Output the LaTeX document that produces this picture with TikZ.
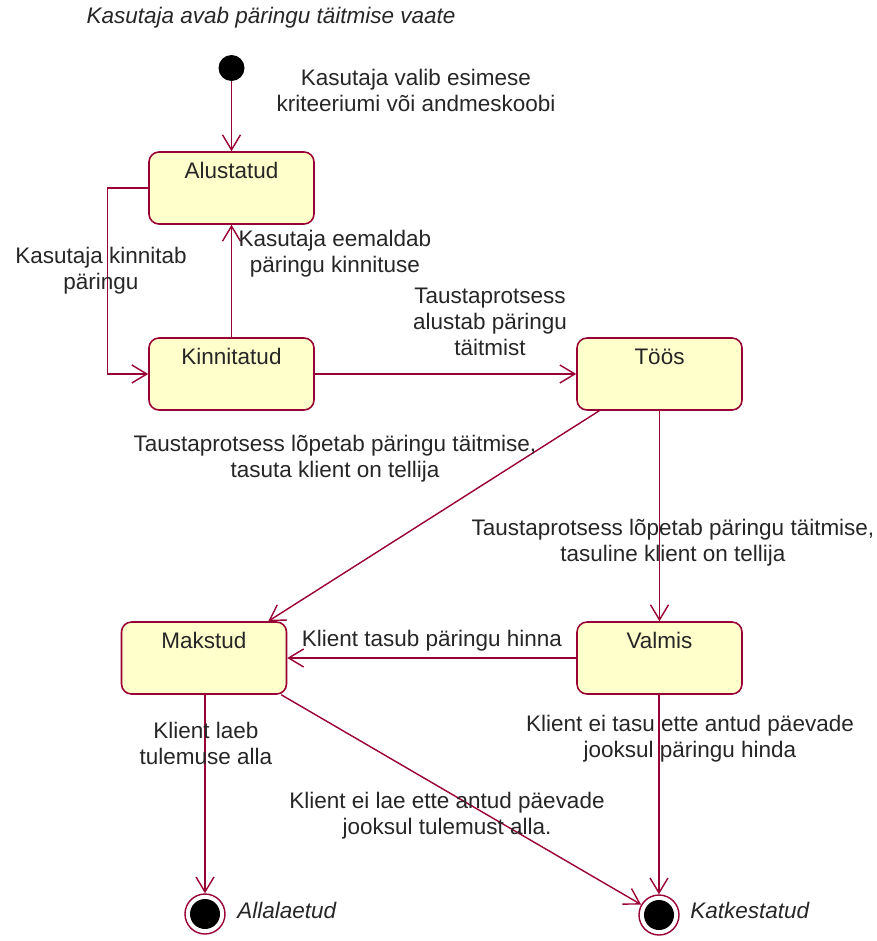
\documentclass[tikz,border=0pt]{standalone}
\usepackage{fontspec}
\setmainfont{Liberation Sans}
\usetikzlibrary{arrows.meta}
\definecolor{umlred}{RGB}{153,0,51}
\definecolor{umlfill}{RGB}{255,255,204}
\begin{document}
\begin{tikzpicture}[
  every node/.style={font=\fontsize{12.8}{14.8}\selectfont,text=black!85},
  statebox/.style={draw=umlred,fill=umlfill,line width=0.9pt,rounded corners=0.2cm,
    minimum width=3.3cm,text height=0.42cm,text depth=0.82cm,inner sep=0.1cm},
  initstate/.style={circle,fill=black,minimum size=0.52cm,inner sep=0pt},
  finalstate/.style={circle,draw=umlred,line width=0.8pt,minimum size=0.8cm,inner sep=0pt,
    path picture={\fill[black] (path picture bounding box.center) circle (0.3cm);}},
  trans/.style={draw=umlred,line width=0.8pt,-{Straight Barb[length=3mm,width=3.6mm]}},
  lbl/.style={align=center,inner sep=0pt}
]
\useasboundingbox (0,0) rectangle (17.52,-18.82);
% states
\node[initstate] (start) at (4.63,-1.36) {};
\node[statebox] (alustatud) at (4.63,-3.76) {Alustatud};
\node[statebox] (kinnitatud) at (4.63,-7.48) {Kinnitatud};
\node[statebox] (toos) at (13.19,-7.48) {Töös};
\node[statebox] (makstud) at (4.08,-13.16) {Makstud};
\node[statebox] (valmis) at (13.19,-13.16) {Valmis};
\node[finalstate] (allalaetud) at (4.10,-18.28) {};
\node[finalstate] (katkestatud) at (13.18,-18.30) {};
% transitions
\draw[trans] (start) -- (alustatud.north);
\draw[trans] (alustatud.west) -- ++(-0.82,0) |- (kinnitatud.west);
\draw[trans] (kinnitatud.north) -- (alustatud.south);
\draw[trans] (kinnitatud.east) -- (toos.west);
\draw[trans] ([xshift=0.46cm]toos.south west) -- ([xshift=-0.38cm]makstud.north east);
\draw[trans] (toos.south) -- (valmis.north);
\draw[trans] (valmis.west) -- (makstud.east);
\draw[trans] (makstud.south -| allalaetud) -- (allalaetud);
\draw[trans] ([xshift=-0.12cm]makstud.south east) -- (katkestatud);
\draw[trans] (valmis.south -| katkestatud) -- (katkestatud);
% labels
\node[lbl,font=\fontsize{12.8}{14.8}\selectfont\itshape] (tvaade) at (5.42,-0.36) {Kasutaja avab päringu täitmise vaate};
\node[lbl] (tvalib) at (8.32,-1.80) {Kasutaja valib esimese\\kriteeriumi või andmeskoobi};
\node[lbl] (tkinnitab) at (2.02,-5.42) {Kasutaja kinnitab\\päringu};
\node[lbl] (teemaldab) at (6.70,-5.08) {Kasutaja eemaldab\\päringu kinnituse};
\node[lbl] (talustab) at (9.80,-6.44) {Taustaprotsess\\alustab päringu\\täitmist};
\node[lbl] (ttasuta) at (6.70,-9.18) {Taustaprotsess lõpetab päringu täitmise,\\tasuta klient on tellija};
\node[lbl] (ttasuline) at (13.46,-10.86) {Taustaprotsess lõpetab päringu täitmise,\\tasuline klient on tellija};
\node[lbl] (ttasub) at (8.64,-12.82) {Klient tasub päringu hinna};
\node[lbl] (tlaeb) at (4.12,-14.86) {Klient laeb\\tulemuse alla};
\node[lbl] (tlaeei) at (8.94,-16.32) {Klient ei lae ette antud päevade\\jooksul tulemust alla.};
\node[lbl] (ttasuei) at (13.80,-14.78) {Klient ei tasu ette antud päevade\\jooksul päringu hinda};
\node[lbl,anchor=west,font=\fontsize{12.8}{14.8}\selectfont\itshape] (tallalaetud) at (4.74,-18.20) {Allalaetud};
\node[lbl,anchor=west,font=\fontsize{12.8}{14.8}\selectfont\itshape] (tkatkestatud) at (13.80,-18.20) {Katkestatud};
\end{tikzpicture}
\end{document}
